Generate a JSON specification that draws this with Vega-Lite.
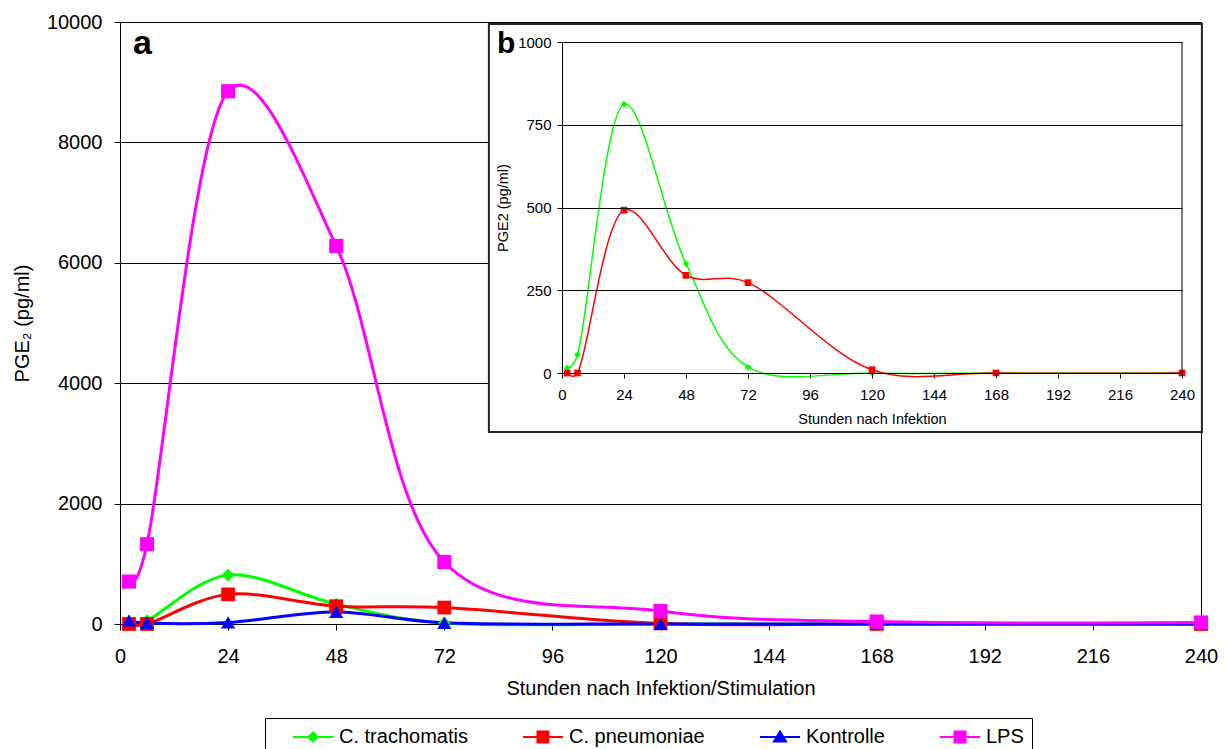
{
  "$schema": "https://vega.github.io/schema/vega-lite/v6.json",
  "width": 1081,
  "height": 602,
  "autosize": {"type": "none"},
  "padding": {"left": 120, "top": 22, "right": 26, "bottom": 125},
  "background": "white",
  "config": {
    "font": "Liberation Sans",
    "view": {"stroke": "black", "strokeWidth": 1},
    "axis": {
      "labelColor": "black", "titleColor": "black", "domainColor": "black",
      "tickColor": "black", "gridColor": "black", "gridOpacity": 1,
      "titleFontWeight": "normal", "labelFont": "Liberation Sans", "titleFont": "Liberation Sans",
      "labelFlush": false, "labelOverlap": false, "format": "d"
    },
    "legend": {
      "labelFont": "Liberation Sans", "labelColor": "black"
    }
  },
  "datasets": {
    "pge": [
      {"series": "C. trachomatis", "t": 2, "v": 15},
      {"series": "C. trachomatis", "t": 6, "v": 55},
      {"series": "C. trachomatis", "t": 24, "v": 812},
      {"series": "C. trachomatis", "t": 48, "v": 330},
      {"series": "C. trachomatis", "t": 72, "v": 18},
      {"series": "C. trachomatis", "t": 120, "v": 0},
      {"series": "C. trachomatis", "t": 168, "v": 0},
      {"series": "C. trachomatis", "t": 240, "v": 0},
      {"series": "C. pneumoniae", "t": 2, "v": 0},
      {"series": "C. pneumoniae", "t": 6, "v": 0},
      {"series": "C. pneumoniae", "t": 24, "v": 492},
      {"series": "C. pneumoniae", "t": 48, "v": 295},
      {"series": "C. pneumoniae", "t": 72, "v": 273},
      {"series": "C. pneumoniae", "t": 120, "v": 10},
      {"series": "C. pneumoniae", "t": 168, "v": 0},
      {"series": "C. pneumoniae", "t": 240, "v": 0},
      {"series": "Kontrolle", "t": 2, "v": 60},
      {"series": "Kontrolle", "t": 6, "v": 15},
      {"series": "Kontrolle", "t": 24, "v": 25},
      {"series": "Kontrolle", "t": 48, "v": 200},
      {"series": "Kontrolle", "t": 72, "v": 20},
      {"series": "Kontrolle", "t": 120, "v": 0},
      {"series": "Kontrolle", "t": 168, "v": 0},
      {"series": "Kontrolle", "t": 240, "v": 0},
      {"series": "LPS", "t": 2, "v": 705},
      {"series": "LPS", "t": 6, "v": 1325},
      {"series": "LPS", "t": 24, "v": 8850},
      {"series": "LPS", "t": 48, "v": 6280},
      {"series": "LPS", "t": 72, "v": 1030},
      {"series": "LPS", "t": 120, "v": 215},
      {"series": "LPS", "t": 168, "v": 40},
      {"series": "LPS", "t": 240, "v": 25}
    ],
    "box": [{"t": 81.9, "t1": 240.2, "v": 3189, "v1": 9967}],
    "letters": [
      {"letter": "a", "t": 2.9, "v": 9468, "sz": 34},
      {"letter": "b", "t": 83.7, "v": 9485, "sz": 30}
    ],
    "frame": [{"t": 240, "v": 0, "v1": 1000}]
  },
  "layer": [
    {
      "layer": [
        {
          "data": {"name": "pge"},
          "mark": {"type": "line", "interpolate": "catmull-rom", "tension": 0.15, "strokeWidth": 3},
          "encoding": {
            "x": {
              "field": "t", "type": "quantitative",
              "scale": {"domain": [0, 240], "nice": false, "zero": false},
              "axis": {
                "values": [0, 24, 48, 72, 96, 120, 144, 168, 192, 216, 240],
                "title": "Stunden nach Infektion/Stimulation",
                "titleFontSize": 20, "labelFontSize": 20,
                "tickSize": 6, "labelPadding": 16, "titlePadding": 12, "grid": false
              }
            },
            "y": {
              "field": "v", "type": "quantitative",
              "scale": {"domain": [0, 10000], "nice": false},
              "axis": {
                "values": [0, 2000, 4000, 6000, 8000, 10000],
                "title": "PGE₂ (pg/ml)", "grid": true,
                "labelFontSize": 20, "titleFontSize": 20,
                "tickSize": 6, "labelPadding": 12, "titlePadding": 14
              }
            },
            "color": {
              "field": "series", "type": "nominal",
              "scale": {
                "domain": ["C. trachomatis", "C. pneumoniae", "Kontrolle", "LPS"],
                "range": ["#00FF00", "#FF0000", "#0000FF", "#FF00FF"]
              },
              "legend": {
                "title": null, "orient": "none", "legendX": 145, "legendY": 696,
                "direction": "horizontal", "strokeColor": "black", "padding": 8,
                "symbolSize": 400, "symbolStrokeWidth": 2, "labelFontSize": 20,
                "symbolOffset": 29, "labelOffset": 15, "columnPadding": 35,
                "encode": {
                  "symbols": {
                    "update": {
                      "shape": {"signal": "datum.value === 'C. trachomatis' ? 'M-2,0L2,0M-0.45,0L0,-0.45L0.45,0L0,0.45Z' : datum.value === 'Kontrolle' ? 'M-2,0L2,0M-0.6,0.45L0,-0.55L0.6,0.45Z' : 'M-2,0L2,0M-0.55,-0.55L0.55,-0.55L0.55,0.55L-0.55,0.55Z'"},
                      "fill": {"signal": "scale('color', datum.value)"},
                      "stroke": {"signal": "scale('color', datum.value)"},
                      "strokeWidth": {"value": 2},
                      "opacity": {"value": 1}
                    }
                  }
                }
              }
            }
          }
        },
        {
          "data": {"name": "pge"},
          "transform": [{"filter": "datum.series === 'C. trachomatis'"}],
          "mark": {"type": "point", "shape": "diamond", "filled": true, "opacity": 1, "size": 160},
          "encoding": {
            "x": {"field": "t", "type": "quantitative"},
            "y": {"field": "v", "type": "quantitative"},
            "color": {"field": "series", "type": "nominal"}
          }
        },
        {
          "data": {"name": "pge"},
          "transform": [{"filter": "datum.series === 'C. pneumoniae'"}],
          "mark": {"type": "point", "shape": "square", "filled": true, "opacity": 1, "size": 190},
          "encoding": {
            "x": {"field": "t", "type": "quantitative"},
            "y": {"field": "v", "type": "quantitative"},
            "color": {"field": "series", "type": "nominal"}
          }
        },
        {
          "data": {"name": "pge"},
          "transform": [{"filter": "datum.series === 'Kontrolle'"}],
          "mark": {"type": "point", "shape": "triangle-up", "filled": true, "opacity": 1, "size": 200},
          "encoding": {
            "x": {"field": "t", "type": "quantitative"},
            "y": {"field": "v", "type": "quantitative"},
            "color": {"field": "series", "type": "nominal"}
          }
        },
        {
          "data": {"name": "pge"},
          "transform": [{"filter": "datum.series === 'LPS'"}],
          "mark": {"type": "point", "shape": "square", "filled": true, "opacity": 1, "size": 200},
          "encoding": {
            "x": {"field": "t", "type": "quantitative"},
            "y": {"field": "v", "type": "quantitative"},
            "color": {"field": "series", "type": "nominal"}
          }
        },
        {
          "data": {"name": "box"},
          "mark": {"type": "rect", "fill": "white", "stroke": "#222222", "strokeWidth": 2},
          "encoding": {
            "x": {"field": "t", "type": "quantitative"},
            "x2": {"field": "t1"},
            "y": {"field": "v", "type": "quantitative"},
            "y2": {"field": "v1"}
          }
        },
        {
          "data": {"name": "letters"},
          "mark": {"type": "text", "align": "left", "baseline": "alphabetic", "fontWeight": "bold", "font": "Liberation Sans", "color": "black"},
          "encoding": {
            "x": {"field": "t", "type": "quantitative"},
            "y": {"field": "v", "type": "quantitative"},
            "text": {"field": "letter"},
            "size": {"field": "sz", "type": "quantitative", "scale": null}
          }
        }
      ]
    },
    {
      "layer": [
        {
          "data": {"name": "pge"},
          "transform": [{"filter": "datum.series === 'C. trachomatis' || datum.series === 'C. pneumoniae'"}],
          "mark": {"type": "line", "interpolate": "catmull-rom", "tension": 0.3, "strokeWidth": 1.5},
          "encoding": {
            "x": {
              "field": "t", "type": "quantitative",
              "scale": {"domain": [0, 240], "nice": false, "zero": false, "range": [442, 1062]},
              "axis": {
                "orient": "bottom", "offset": -251, "zindex": 1,
                "values": [0, 24, 48, 72, 96, 120, 144, 168, 192, 216, 240],
                "title": "Stunden nach Infektion", "titleFontSize": 14.5, "labelFontSize": 15,
                "tickSize": 5, "labelPadding": 9, "titlePadding": 10, "grid": false
              }
            },
            "y": {
              "field": "v", "type": "quantitative",
              "scale": {"domain": [0, 1000], "nice": false, "range": [351, 20]},
              "axis": {
                "orient": "left", "offset": -442, "zindex": 1,
                "values": [0, 250, 500, 750, 1000],
                "title": "PGE2 (pg/ml)", "grid": true,
                "labelFontSize": 15, "titleFontSize": 14.5,
                "tickSize": 5, "labelPadding": 6, "titlePadding": 7
              }
            },
            "color": {"field": "series", "type": "nominal"}
          }
        },
        {
          "data": {"name": "pge"},
          "transform": [{"filter": "datum.series === 'C. trachomatis'"}],
          "mark": {"type": "point", "shape": "diamond", "filled": true, "opacity": 1, "size": 45},
          "encoding": {
            "x": {"field": "t", "type": "quantitative"},
            "y": {"field": "v", "type": "quantitative"},
            "color": {"field": "series", "type": "nominal"}
          }
        },
        {
          "data": {"name": "pge"},
          "transform": [{"filter": "datum.series === 'C. pneumoniae'"}],
          "mark": {"type": "point", "shape": "square", "filled": true, "opacity": 1, "size": 45},
          "encoding": {
            "x": {"field": "t", "type": "quantitative"},
            "y": {"field": "v", "type": "quantitative"},
            "color": {"field": "series", "type": "nominal"}
          }
        },
        {
          "data": {"name": "frame"},
          "mark": {"type": "rule", "color": "black", "strokeWidth": 1},
          "encoding": {
            "x": {"field": "t", "type": "quantitative"},
            "y": {"field": "v", "type": "quantitative"},
            "y2": {"field": "v1"}
          }
        }
      ]
    }
  ],
  "resolve": {"scale": {"x": "independent", "y": "independent"}}
}
